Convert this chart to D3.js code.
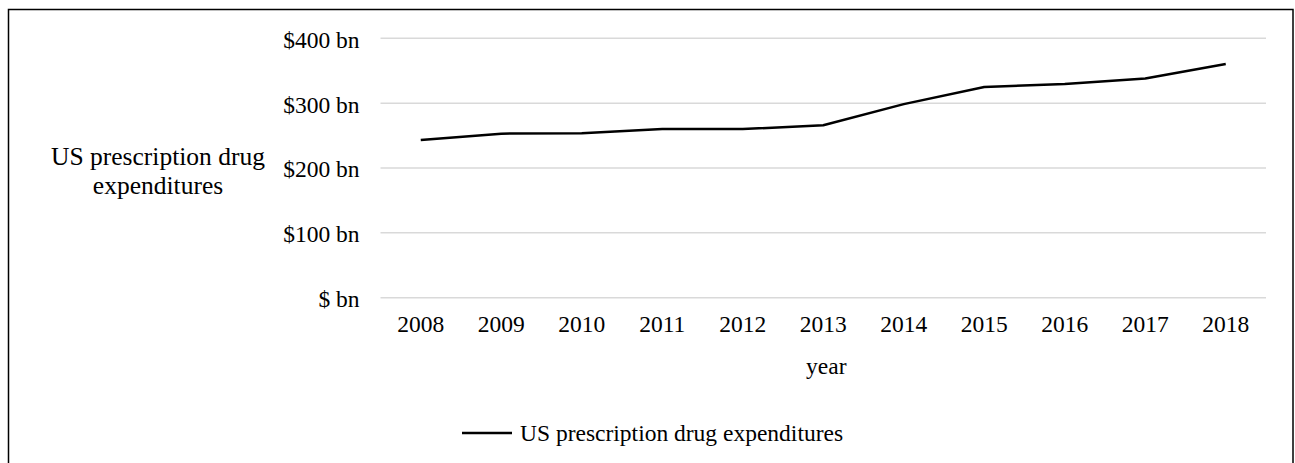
<!DOCTYPE html>
<html>
<head>
<meta charset="utf-8">
<script src="https://cdn.jsdelivr.net/npm/d3@7"></script>
<style>
  html, body { margin: 0; padding: 0; background: #fff; }
  svg { display: block; }
  text { font-family: "Liberation Serif", "Times New Roman", serif; fill: #000; }
</style>
</head>
<body>
<svg id="chart" width="1295" height="463"></svg>
<script>
// US prescription drug spending, billions of dollars
const years = ["2008", "2009", "2010", "2011", "2012", "2013", "2014", "2015", "2016", "2017", "2018"];
const spending = [243, 253, 253.5, 260, 260, 266, 298.5, 325, 329.5, 338, 360.5];
const yTicks = [0, 100, 200, 300, 400];
const yTickLabels = ["$ bn", "$100 bn", "$200 bn", "$300 bn", "$400 bn"];
const seriesName = "US prescription drug expenditures";
const xTitle = "year";
const yTitleLines = ["US prescription drug", "expenditures"];

const svg = d3.select("#chart");
const fontSize = 23.5;

// outer frame
svg.append("rect")
  .attr("x", 8.5).attr("y", 9.5)
  .attr("width", 1284.5).attr("height", 470)
  .attr("fill", "none").attr("stroke", "#000").attr("stroke-width", 1.5);

const plot = { left: 380.5, right: 1266, top: 38.3, bottom: 297.7 };

const x = d3.scaleBand().domain(years).range([plot.left, plot.right]);
const y = d3.scaleLinear().domain([0, 400]).range([plot.bottom, plot.top]);

// horizontal gridlines
svg.append("g")
  .selectAll("line")
  .data(yTicks)
  .join("line")
  .attr("x1", plot.left).attr("x2", plot.right)
  .attr("y1", d => y(d)).attr("y2", d => y(d))
  .attr("stroke", "#d9d9d9").attr("stroke-width", 1.5);

// y axis labels
const yAxis = d3.axisLeft(y)
  .tickValues(yTicks)
  .tickSize(0)
  .tickPadding(21)
  .tickFormat((d, i) => yTickLabels[i]);
svg.append("g")
  .attr("transform", `translate(${plot.left},0)`)
  .call(yAxis)
  .call(g => g.select(".domain").remove())
  .call(g => g.selectAll("text")
    .attr("font-family", "Liberation Serif")
    .attr("font-size", fontSize)
    .attr("fill", "#000")
    .attr("dy", "0.38em"));

// x axis labels
const xAxis = d3.axisBottom(x).tickSize(0).tickPadding(18);
svg.append("g")
  .attr("transform", `translate(0,${plot.bottom})`)
  .call(xAxis)
  .call(g => g.select(".domain").remove())
  .call(g => g.selectAll("text")
    .attr("font-family", "Liberation Serif")
    .attr("font-size", fontSize)
    .attr("fill", "#000"));

// the series line
const line = d3.line()
  .x((d, i) => x(years[i]) + x.bandwidth() / 2)
  .y(d => y(d));
svg.append("path")
  .datum(spending)
  .attr("d", line)
  .attr("fill", "none")
  .attr("stroke", "#000")
  .attr("stroke-width", 2.5)
  .attr("stroke-linejoin", "round");

// axis titles
svg.append("text")
  .attr("x", (plot.left + plot.right) / 2 + 3)
  .attr("y", 374)
  .attr("text-anchor", "middle")
  .attr("font-size", fontSize)
  .text(xTitle);

svg.append("text")
  .attr("x", 158)
  .attr("y", 165)
  .attr("text-anchor", "middle")
  .attr("font-size", 25.5)
  .selectAll("tspan")
  .data(yTitleLines)
  .join("tspan")
  .attr("x", 158)
  .attr("dy", (d, i) => i === 0 ? 0 : 29)
  .text(d => d);

// legend
const legend = svg.append("g").attr("transform", "translate(462,433)");
legend.append("line")
  .attr("x1", 0).attr("x2", 50)
  .attr("y1", 0).attr("y2", 0)
  .attr("stroke", "#000").attr("stroke-width", 2.5);
legend.append("text")
  .attr("x", 58).attr("y", 0)
  .attr("dy", "0.35em")
  .attr("font-size", fontSize)
  .text(seriesName);
</script>
</body>
</html>
